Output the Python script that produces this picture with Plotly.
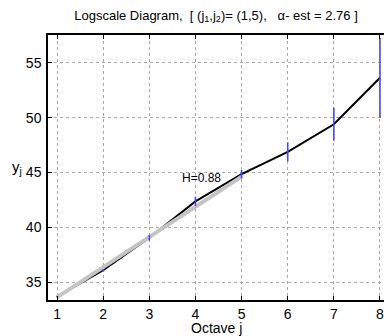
import plotly.graph_objects as go

octaves = [1, 2, 3, 4, 5, 6, 7, 8]
yj = [33.69, 36.10, 39.05, 42.37, 44.85, 46.88, 49.39, 53.63]
yerr = [0.05, 0.1, 0.26, 0.43, 0.38, 0.87, 1.5, 3.63]
fit_j = [1, 5]
fit_y = [33.62, 44.62]
x_ticks = [1, 2, 3, 4, 5, 6, 7, 8]
y_ticks = [35, 40, 45, 50, 55]

FONT = "Liberation Sans, Arial, Helvetica, sans-serif"

fig = go.Figure()
fig.add_trace(go.Scatter(x=octaves, y=yj, mode="lines",
                         line=dict(color="black", width=2), hoverinfo="skip"))
fig.add_trace(go.Scatter(x=fit_j, y=fit_y, mode="lines",
                         line=dict(color="#c4c4c4", width=4), hoverinfo="skip"))
fig.add_trace(go.Scatter(x=octaves, y=yj, mode="markers",
                         marker=dict(size=1, color="rgba(0,0,0,0)"),
                         error_y=dict(type="data", array=yerr, visible=True,
                                      color="rgb(70,70,255)", thickness=1.6, width=0),
                         hoverinfo="skip"))

fig.add_annotation(x=4.13, y=44.54, text="H=0.88", showarrow=False,
                   font=dict(family=FONT, size=12, color="black"))
fig.add_annotation(x=-0.092, y=0.5, xref="paper", yref="paper",
                   xanchor="center", yanchor="middle",
                   text="y<sub>j</sub>", showarrow=False,
                   font=dict(family=FONT, size=15, color="black"))
fig.add_annotation(x=0.5, y=-0.104, xref="paper", yref="paper",
                   xanchor="center", yanchor="middle",
                   text="Octave j", showarrow=False,
                   font=dict(family=FONT, size=14, color="black"))

fig.update_layout(
    width=384, height=336,
    margin=dict(l=48, r=0, t=35, b=36),
    paper_bgcolor="white", plot_bgcolor="white",
    showlegend=False,
    title=dict(text="Logscale Diagram,  [ (j<sub>1</sub>,j<sub>2</sub>)= (1,5),   α- est = 2.76 ]",
               x=0.5, xref="paper", xanchor="center", y=0.955, yanchor="middle",
               font=dict(family=FONT, size=13, color="black")),
    font=dict(family=FONT, size=14, color="black"),
)
fig.update_xaxes(range=[0.804, 8.087], tickvals=x_ticks, ticks="inside", ticklen=4,
                 tickcolor="black", showline=True, linecolor="black", linewidth=1.5,
                 mirror="ticks", showgrid=True, gridcolor="#a8a8a8", griddash="dot",
                 gridwidth=1, zeroline=False, ticklabeloverflow="allow",
                 automargin=False)
fig.update_yaxes(range=[33.38, 57.53], tickvals=y_ticks, ticks="inside", ticklen=4,
                 tickcolor="black", showline=True, linecolor="black", linewidth=1.5,
                 mirror=False, showgrid=True, gridcolor="#a8a8a8", griddash="dot",
                 gridwidth=1, zeroline=False, ticklabelstandoff=2, automargin=False)

fig.write_html("out.html")
